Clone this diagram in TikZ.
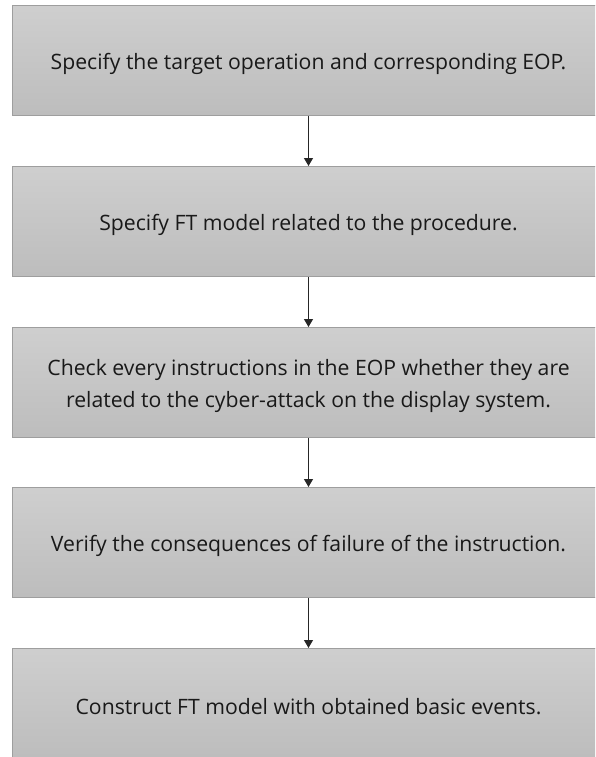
\documentclass[tikz,border=0pt]{standalone}
\usepackage{fontspec}
\setmainfont{Open Sans}
\usetikzlibrary{arrows.meta}
\begin{document}
\begin{tikzpicture}[x=1pt,y=-1pt,
  stepbox/.style={draw=black!38, line width=1pt, top color=black!19, bottom color=black!26,
    minimum width=592pt, minimum height=110pt, anchor=north west, inner sep=0pt},
  steptext/.style={yshift=-3pt, align=center, text=black!90,
    font=\fontsize{21.2}{32}\selectfont},
  flow/.style={draw=black!85, line width=1.2pt, -{Triangle[width=9pt,length=8pt]}}]
\useasboundingbox (0,0) rectangle (595,757);
\clip (0,0) rectangle (595,757);
% the five step boxes (their right sides run past the page edge)
\node[stepbox] (s1) at (12,5)   {};
\node[stepbox] (s2) at (12,166) {};
\node[stepbox] (s3) at (12,327) {};
\node[stepbox] (s4) at (12,487) {};
\node[stepbox] (s5) at (12,648) {};
% their labels
\node[steptext] (t1) at (s1.center) {Specify the target operation and corresponding EOP.};
\node[steptext] (t2) at (s2.center) {Specify FT model related to the procedure.};
\node[steptext] (t3) at (s3.center) {Check every instructions in the EOP whether they are\\related to the cyber-attack on the display system.};
\node[steptext] (t4) at (s4.center) {Verify the consequences of failure of the instruction.};
\node[steptext] (t5) at (s5.center) {Construct FT model with obtained basic events.};
% arrows between consecutive steps
\draw[flow] (s1.south) -- (s2.north);
\draw[flow] (s2.south) -- (s3.north);
\draw[flow] (s3.south) -- (s4.north);
\draw[flow] (s4.south) -- (s5.north);
\end{tikzpicture}
\end{document}
